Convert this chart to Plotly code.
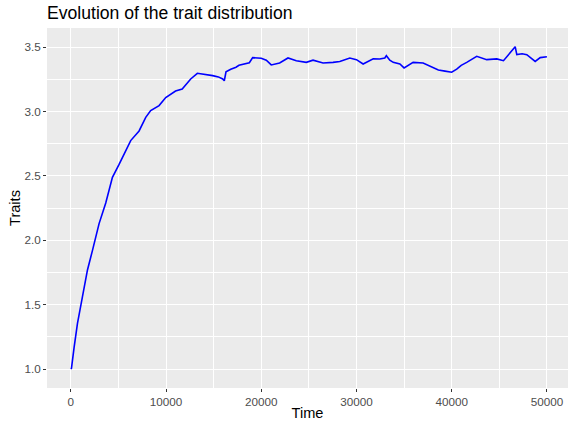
import plotly.graph_objects as go

# Mean trait value over simulation time
time = [0, 70, 350, 700, 1220, 1750, 2270, 2800, 2970, 3670, 4370, 5070, 5700, 6290, 7170,
        7870, 8390, 9270, 9970, 11000, 11700, 12590, 13290, 14160, 14900, 15500,
        15950, 16120, 16300, 16800, 17350, 17660, 18400, 18750, 19100, 20000, 20530,
        21050, 21930, 22810, 23680, 24730, 25440, 26490, 27540, 28250, 29300, 30000,
        30700, 31760, 32440, 32980, 33140, 33500, 33860, 34560, 35000, 35950, 37000,
        37700, 38600, 39300, 40000, 40530, 41000, 41580, 42630, 43680, 44740, 45440,
        46140, 46670, 46840, 47400, 47890, 48770, 49300, 50000]
traits = [1.00, 1.005, 1.17, 1.354, 1.56, 1.77, 1.92, 2.08, 2.13, 2.29, 2.49, 2.59, 2.69, 2.775, 2.85,
          2.956, 3.008, 3.047, 3.11, 3.16, 3.176, 3.254, 3.298, 3.29, 3.28, 3.27,
          3.254, 3.24, 3.31, 3.33, 3.345, 3.36, 3.37, 3.38, 3.42, 3.415, 3.40,
          3.363, 3.378, 3.417, 3.396, 3.383, 3.40, 3.378, 3.383, 3.39, 3.417, 3.404,
          3.37, 3.41, 3.409, 3.417, 3.435, 3.40, 3.383, 3.37, 3.34, 3.383, 3.378,
          3.357, 3.324, 3.315, 3.306, 3.33, 3.36, 3.383, 3.43, 3.404, 3.41, 3.396,
          3.46, 3.505, 3.443, 3.45, 3.443, 3.39, 3.42, 3.427]

x_ticks = [0, 10000, 20000, 30000, 40000, 50000]
y_ticks = [1.0, 1.5, 2.0, 2.5, 3.0, 3.5]

font = "Liberation Sans, Arial, sans-serif"

fig = go.Figure(go.Scatter(
    x=time, y=traits, mode="lines",
    line=dict(color="blue", width=1.6),
    showlegend=False,
))

axis_common = dict(
    showgrid=True, gridcolor="white", gridwidth=1.1,
    zeroline=False, showline=False,
    ticks="outside", ticklen=3, tickwidth=1, tickcolor="#333333",
    tickfont=dict(family=font, size=11.7, color="#4D4D4D"),
)

fig.update_layout(
    width=568, height=427,
    margin=dict(l=47, r=0, t=28, b=39),
    paper_bgcolor="white", plot_bgcolor="#EBEBEB",
    title=dict(text="Evolution of the trait distribution", x=47 / 568, xanchor="left",
               y=1 - 13 / 427, yanchor="middle",
               font=dict(family=font, size=17.6, color="black")),
    xaxis=dict(
        range=[-2500, 52216], tickvals=x_ticks, ticktext=[str(v) for v in x_ticks],
        minor=dict(tickvals=[5000, 15000, 25000, 35000, 45000], showgrid=True,
                   gridcolor="white", gridwidth=0.5, ticks=""),
        title=dict(text="Time", font=dict(family=font, size=14.6, color="black"), standoff=0),
        **axis_common,
    ),
    yaxis=dict(
        range=[0.8525, 3.650], tickvals=y_ticks, ticktext=[f"{v:.1f}" for v in y_ticks],
        minor=dict(tickvals=[1.25, 1.75, 2.25, 2.75, 3.25], showgrid=True,
                   gridcolor="white", gridwidth=0.5, ticks=""),
        title=dict(text="Traits", font=dict(family=font, size=14.6, color="black"), standoff=0),
        **axis_common,
    ),
)

fig.write_html("out.html")
